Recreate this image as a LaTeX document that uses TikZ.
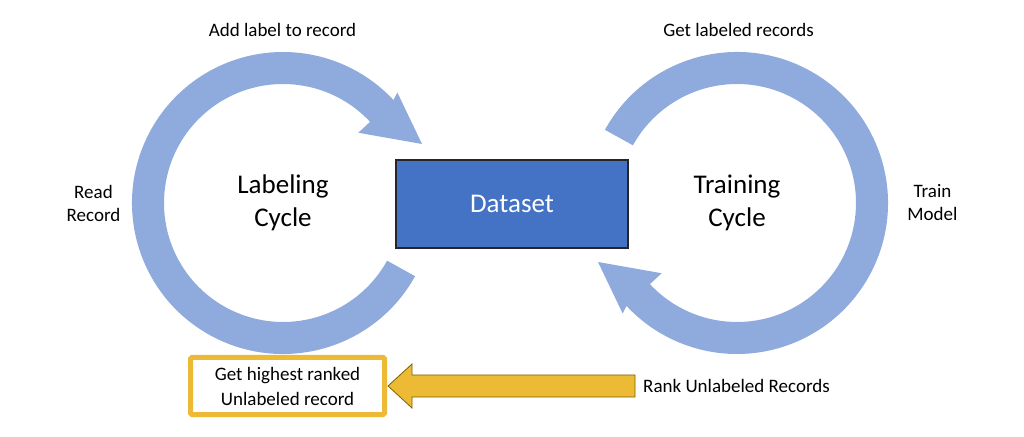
\documentclass[tikz,border=0pt]{standalone}
\usepackage{fontspec}
\setmainfont{Carlito}
\usetikzlibrary{calc}
\definecolor{cyc}{HTML}{8FAADC}
\definecolor{dsblue}{HTML}{4472C4}
\definecolor{gold}{HTML}{ECBA34}
\definecolor{goldline}{HTML}{7F6000}
\tikzset{
  cyclearrow/.style={fill=cyc, draw=none},
  bigtext/.style={font=\fontsize{27}{33}\selectfont, align=center, inner sep=0pt},
  smalltext/.style={font=\fontsize{19}{23}\selectfont, align=center, inner sep=0pt},
  datasetbox/.style={rectangle, fill=dsblue, draw=black!85, line width=1.3pt, minimum width=232pt, minimum height=88pt, text=white, font=\fontsize{27}{33}\selectfont, inner sep=0pt},
  goldbox/.style={rectangle, draw=gold, line width=5pt, rounded corners=1.5pt, fill=white, minimum width=194pt, minimum height=57pt, font=\fontsize{19}{25}\selectfont, align=center, inner sep=0pt},
  goldarrow/.style={fill=gold, draw=goldline, line width=0.8pt, line join=miter}
}
\begin{document}
\begin{tikzpicture}[x=1pt, y=1pt]
\useasboundingbox (0,0) rectangle (1024,436);
% Labeling cycle arrow
\begin{scope}[shift={(283,233)}]
  \fill[cyclearrow] (-29:151) arc[start angle=-29, end angle=-317, radius=151]
    -- (44:159) -- (23:151) -- (43:103) -- (43:119)
    arc[start angle=43, end angle=331, radius=119] -- cycle;
\end{scope}
% Training cycle arrow (same shape turned half a turn)
\begin{scope}[shift={(737,233)}, rotate=180]
  \fill[cyclearrow] (-29:151) arc[start angle=-29, end angle=-317, radius=151]
    -- (44:159) -- (23:151) -- (43:103) -- (43:119)
    arc[start angle=43, end angle=331, radius=119] -- cycle;
\end{scope}

\node[datasetbox] (ds) at (512,232) {Dataset};
\node[bigtext] (lc) at (283,233) {Labeling\\Cycle};
\node[bigtext] (tc) at (737,233) {Training\\Cycle};

\node[smalltext, anchor=base] (add) at (282.5,399) {Add label to record};
\node[smalltext, anchor=base] (get) at (738.5,399) {Get labeled records};
\node[smalltext] (read) at (93.5,233) {Read\\Record};
\node[smalltext] (train) at (932.5,233) {Train\\Model};

\node[goldbox] (ghr) at (287.5,50) {Get highest ranked\\Unlabeled record};
\node[smalltext, anchor=base west] (rank) at (643,44) {Rank Unlabeled Records};

\coordinate (tip) at (388,50);
\coordinate (tail) at (635,50);
\draw[goldarrow] (tip) -- ++(24,22) -- ++(0,-11) -- ($(tail)+(0,11)$) -- ($(tail)+(0,-11)$) -- (412,39) -- (412,28) -- cycle;
\end{tikzpicture}
\end{document}
